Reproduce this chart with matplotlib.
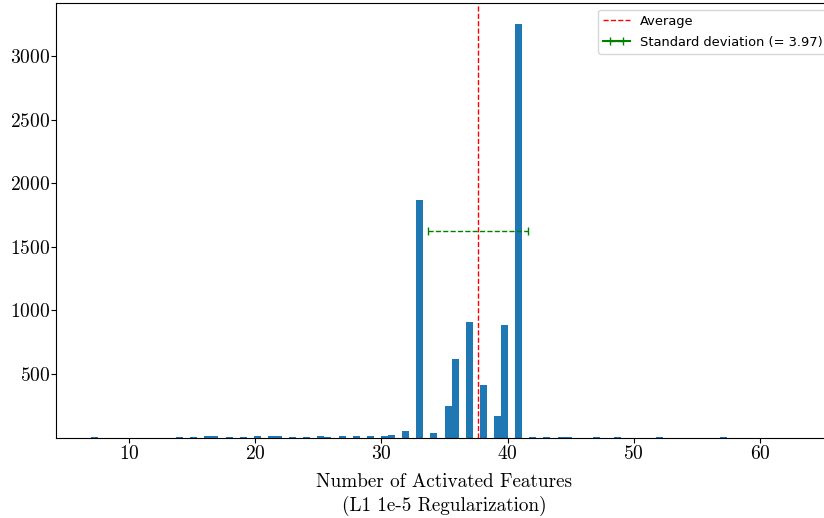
import numpy as np
import matplotlib
matplotlib.use("Agg")
import matplotlib.pyplot as plt

# number of activated features -> how many samples had that many
n_features = [7, 14, 15, 16, 17, 18, 19, 20, 21, 22, 23, 24, 25, 26, 27, 28, 29, 30, 31,
              32, 33, 34, 35, 36, 37, 38, 39, 40, 41, 42, 43, 44, 45, 47, 49, 52, 57]
n_samples = [5, 8, 6, 10, 10, 8, 6, 12, 10, 10, 6, 8, 12, 8, 10, 10, 10, 15, 22,
             48, 1870, 40, 245, 620, 910, 415, 172, 885, 3255, 6, 5, 6, 6, 5, 5, 6, 5]
min_features = 7
max_features = 63
average = 37.63
std_dev = 3.97
y_ticks = [500, 1000, 1500, 2000, 2500, 3000]

plt.rcParams["font.family"] = "serif"
plt.rcParams["font.serif"] = ["cmr10", "DejaVu Serif"]
plt.rcParams["axes.formatter.use_mathtext"] = True
plt.rcParams["mathtext.fontset"] = "cm"

fig = plt.figure(figsize=(8.24, 5.18), dpi=100)
# the original figure is cropped on the right, so the axes runs past the edge
ax = fig.add_axes([56 / 824, (518 - 437.6) / 518, (833 - 56) / 824, (437.6 - 3) / 518])

ax.hist(n_features, bins=100, range=(min_features, max_features), weights=n_samples,
        color="tab:blue")
ax.axvline(average, color="red", linestyle="--", linewidth=1, label="Average")

eb = ax.errorbar(average, max(n_samples) / 2, xerr=std_dev, fmt="-", color="green",
                 capsize=3, elinewidth=1, label="Standard deviation (= %.2f)" % std_dev)
eb[2][0].set_linestyle("--")

ax.set_yticks(y_ticks)
ax.tick_params(labelsize=14)
ax.tick_params(axis="y", pad=0.5)
ax.tick_params(axis="x", pad=2)
ax.set_xlabel("Number of Activated Features\n(L1 1e-5 Regularization)", fontsize=13.8,
              labelpad=7, linespacing=1.3)
ax.legend(loc="upper right", bbox_to_anchor=(1.002, 1.0),
          prop={"family": "DejaVu Sans", "size": 9.4}, labelspacing=0.6)

fig.savefig("out.png", dpi=100)
